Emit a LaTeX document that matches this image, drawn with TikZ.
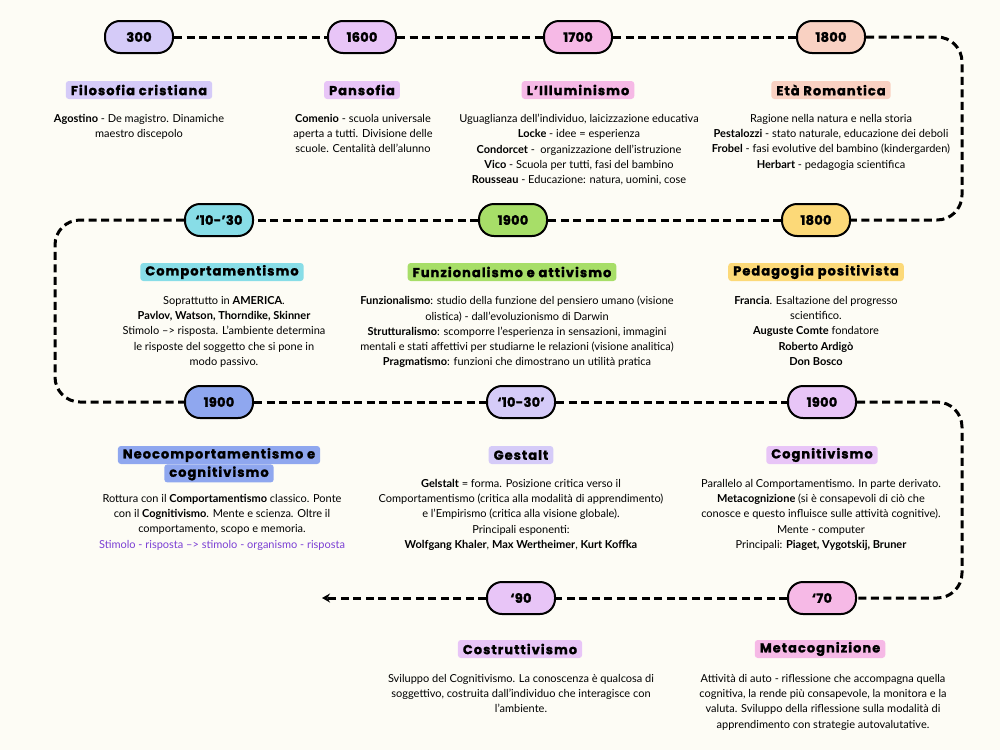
\documentclass[tikz,border=0pt]{standalone}
\usepackage{fontspec}
\setmainfont{Lato}
\newfontfamily\headfont{Poppins}[LetterSpace=8, BoldFeatures={FakeBold=1.3}]
\newfontfamily\yearfont{Poppins}[LetterSpace=2, BoldFeatures={FakeBold=1.6}]
\usetikzlibrary{arrows.meta}

\definecolor{paper}{HTML}{FDFCF5}
\definecolor{clav}{HTML}{D5CBF8}
\definecolor{clilac}{HTML}{E8C5F7}
\definecolor{cpink}{HTML}{F6B9E6}
\definecolor{cpeach}{HTML}{F9D1C2}
\definecolor{ccyan}{HTML}{88DDE7}
\definecolor{cgreen}{HTML}{A7DE68}
\definecolor{cyellow}{HTML}{FCD978}
\definecolor{cblue}{HTML}{8FA7EF}
\definecolor{stimpurple}{HTML}{7B3FD4}

\begin{document}
\begin{tikzpicture}[x=1pt, y=-1pt,
	year/.style={draw=black, line width=2pt, rounded corners=15pt, minimum width=68pt,
		minimum height=32pt, inner sep=0pt, font=\yearfont\fontsize{13}{14}\selectfont\bfseries},
	headline/.style={rounded corners=3pt, inner xsep=5pt, inner ysep=0pt, minimum height=18pt,
		font=\headfont\fontsize{13}{14}\selectfont\bfseries},
	bodytext/.style={anchor=north, align=center, inner sep=0pt,
		font=\fontsize{11}{15.3}\selectfont},
	timeline/.style={line width=3pt, dash pattern=on 8pt off 4.5pt, rounded corners=25pt}]

		\fill [paper] (0,0) rectangle (1000,750);
		\useasboundingbox (0,0) rectangle (1000,750);

		% corners of the timeline
		\coordinate (c1) at (962,37);
		\coordinate (c2) at (962,220);
		\coordinate (c3) at (55,220);
		\coordinate (c4) at (55,402);
		\coordinate (c5) at (962,402);
		\coordinate (c6) at (962,598);
		\coordinate (tip) at (322,598);

		% years
		\node [year, fill=clav] (y300) at (139,37) {300};
		\node [year, fill=clilac] (y1600) at (362,37) {1600};
		\node [year, fill=cpink] (y1700) at (578,37) {1700};
		\node [year, fill=cpeach] (y1800a) at (831,37) {1800};

		\node [year, fill=ccyan] (y1030a) at (219,220) {‘10-’30};
		\node [year, fill=cgreen] (y1900a) at (513,220) {1900};
		\node [year, fill=cyellow] (y1800b) at (816,220) {1800};

		\node [year, fill=cblue] (y1900b) at (219,402) {1900};
		\node [year, fill=clav] (y1030b) at (521,402) {‘10-30’};
		\node [year, fill=clilac] (y1900c) at (822,402) {1900};

		\node [year, fill=clilac] (y90) at (521,598) {‘90};
		\node [year, fill=cpink] (y70) at (822,598) {‘70};

		\draw [timeline] (y300) -- (y1600);
		\draw [timeline] (y1600) -- (y1700);
		\draw [timeline] (y1700) -- (y1800a);
		\draw [timeline] (y1800a) -- (c1) -- (c2) -- (y1800b);
		\draw [timeline] (y1800b) -- (y1900a);
		\draw [timeline] (y1900a) -- (y1030a);
		\draw [timeline] (y1030a) -- (c3) -- (c4) -- (y1900b);
		\draw [timeline] (y1900b) -- (y1030b);
		\draw [timeline] (y1030b) -- (y1900c);
		\draw [timeline] (y1900c) -- (c5) -- (c6) -- (y70);
		\draw [timeline] (y70) -- (y90);
		\draw [timeline, -{Stealth[length=8pt, width=9pt]}] (y90) -- (tip);

		% titles
		\node [headline, fill=clav] (tFil) at (139,90) {Filosofia cristiana};
		\node [headline, fill=clilac] (tPan) at (362,90) {Pansofia};
		\node [headline, fill=cpink] (tIll) at (578,90) {L’Illuminismo};
		\node [headline, fill=cpeach] (tRom) at (831,90) {Età Romantica};

		\node [headline, fill=ccyan] (tCom) at (222,272) {Comportamentismo};
		\node [headline, fill=cgreen] (tFun) at (512,272) {Funzionalismo e attivismo};
		\node [headline, fill=cyellow] (tPed) at (816,272) {Pedagogia positivista};

		\node [headline, fill=cblue] (tNeo) at (219,455) {Neocomportamentismo e};
		\node [headline, fill=cblue, anchor=north] (tNeoB) at (tNeo.south) {cognitivismo};
		\node [headline, fill=clav] (tGes) at (521,455) {Gestalt};
		\node [headline, fill=clilac] (tCog) at (822,455) {Cognitivismo};

		\node [headline, fill=clilac] (tCos) at (520,649) {Costruttivismo};
		\node [headline, fill=cpink] (tMet) at (820,649) {Metacognizione};

		% texts
		\node [bodytext] (bFil) at (139,114) {\textbf{Agostino} - De magistro. Dinamiche\\maestro discepolo};
		\node [bodytext] (bPan) at (363,114) {\textbf{Comenio} - scuola universale\\aperta a tutti. Divisione delle\\scuole. Centalità dell’alunno};
		\node [bodytext] (bIll) at (579,114) {Uguaglianza dell’individuo, laicizzazione educativa\\\textbf{Locke} - idee = esperienza\\\textbf{Condorcet} -\ \ organizzazione dell’istruzione\\\textbf{Vico} - Scuola per tutti, fasi del bambino\\\textbf{Rousseau} - Educazione: natura, uomini, cose};
		\node [bodytext] (bRom) at (831,114) {Ragione nella natura e nella storia\\\textbf{Pestalozzi} - stato naturale, educazione dei deboli\\\textbf{Frobel} - fasi evolutive del bambino (kindergarden)\\\textbf{Herbart} - pedagogia scientifica};

		\node [bodytext] (bCom) at (224,296) {Soprattutto in \textbf{AMERICA}.\\\textbf{Pavlov, Watson, Thorndike, Skinner}\\Stimolo –> risposta. L’ambiente determina\\le risposte del soggetto che si pone in\\modo passivo.};
		\node [bodytext] (bFun) at (517,296) {\textbf{Funzionalismo}: studio della funzione del pensiero umano (visione\\olistica) - dall’evoluzionismo di Darwin\\\textbf{Strutturalismo}: scomporre l’esperienza in sensazioni, immagini\\mentali e stati affettivi per studiarne le relazioni (visione analitica)\\\textbf{Pragmatismo}: funzioni che dimostrano un utilità pratica};
		\node [bodytext] (bPed) at (816,296) {\textbf{Francia}. Esaltazione del progresso\\scientifico.\\\textbf{Auguste Comte} fondatore\\\textbf{Roberto Ardigò}\\\textbf{Don Bosco}};

		\node [bodytext] (bNeo) at (222,494) {Rottura con il \textbf{Comportamentismo} classico. Ponte\\con il \textbf{Cognitivismo}. Mente e scienza. Oltre il\\comportamento, scopo e memoria.\\\textcolor{stimpurple}{Stimolo - risposta –> stimolo - organismo - risposta}};
		\node [bodytext] (bGes) at (521,479) {\textbf{Gelstalt} = forma. Posizione critica verso il\\Comportamentismo (critica alla modalità di apprendimento)\\e l’Empirismo (critica alla visione globale).\\Principali esponenti:\\\textbf{Wolfgang Khaler}, \textbf{Max Wertheimer}, \textbf{Kurt Koffka}};
		\node [bodytext] (bCog) at (821,479) {Parallelo al Comportamentismo. In parte derivato.\\\textbf{Metacognizione} (si è consapevoli di ciò che\\conosce e questo influisce sulle attività cognitive).\\Mente - computer\\Principali: \textbf{Piaget, Vygotskij, Bruner}};

		\node [bodytext] (bCos) at (521,674) {Sviluppo del Cognitivismo. La conoscenza è qualcosa di\\soggettivo, costruita dall’individuo che interagisce con\\l’ambiente.};
		\node [bodytext] (bMet) at (823,674) {Attività di auto - riflessione che accompagna quella\\cognitiva, la rende più consapevole, la monitora e la\\valuta. Sviluppo della riflessione sulla modalità di\\apprendimento con strategie autovalutative.};
	\end{tikzpicture}
\end{document}
